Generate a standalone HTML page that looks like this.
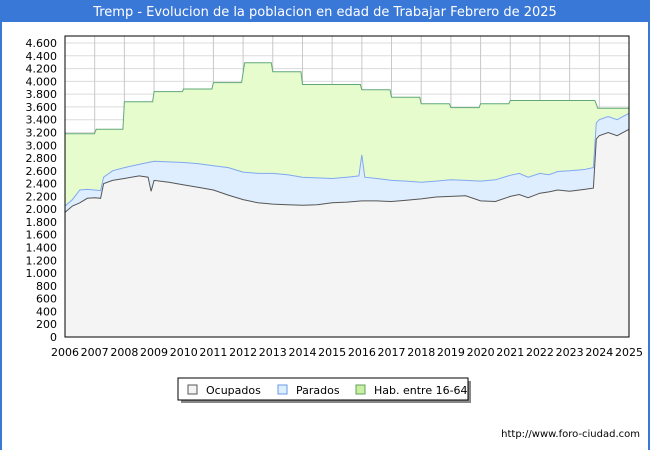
<!DOCTYPE html>
<html><head><meta charset="utf-8"><style>
body{margin:0;background:#fff;font-family:"Liberation Sans","DejaVu Sans",sans-serif}
#wrap{position:relative;width:650px;height:450px;overflow:hidden;background:#fff}
</style></head><body>
<div id="wrap">
<svg id="chart" width="650" height="450" xmlns="http://www.w3.org/2000/svg">
<rect x="0" y="0" width="650" height="450" fill="#fff"/>
<rect x="0" y="0" width="650" height="22" fill="#3a78d8"/>
<rect x="0" y="0" width="2" height="450" fill="#3a78d8"/>
<rect x="648" y="0" width="2" height="450" fill="#3a78d8"/>
<text x="325" y="16" text-anchor="middle" font-size="13" fill="#fff" font-family="DejaVu Sans, sans-serif">Tremp - Evolucion de la poblacion en edad de Trabajar Febrero de 2025</text>
<g id="grid"></g>
<g id="series"></g>
<g id="axes"></g>
<g>
<rect x="181" y="381" width="290" height="22" fill="#888"/>
<rect x="178" y="378" width="290" height="22" fill="#fff" stroke="#000"/>
<rect x="188" y="385" width="9" height="9" fill="#f4f4f4" stroke="#555"/>
<text x="206" y="394" font-size="11" font-family="DejaVu Sans, sans-serif">Ocupados</text>
<rect x="278" y="385" width="9" height="9" fill="#ddeeff" stroke="#6a9ae8"/>
<text x="296" y="394" font-size="11" font-family="DejaVu Sans, sans-serif">Parados</text>
<rect x="356" y="385" width="9" height="9" fill="#c8f0a0" stroke="#60a060"/>
<text x="374" y="394" font-size="11" font-family="DejaVu Sans, sans-serif">Hab. entre 16-64</text>
</g>
<text x="640" y="437" text-anchor="end" font-size="10" font-family="DejaVu Sans, sans-serif">http://www.foro-ciudad.com</text>
</svg>
</div>
<script>
const yearLabels=[2006,2007,2008,2009,2010,2011,2012,2013,2014,2015,2016,2017,2018,2019,2020,2021,2022,2023,2024,2025];
const yTicks=[0,200,400,600,800,1000,1200,1400,1600,1800,2000,2200,2400,2600,2800,3000,3200,3400,3600,3800,4000,4200,4400,4600];
const habT=[2006,2006.99,2007.05,2007.95,2008.0,2008.95,2009.0,2009.95,2010.0,2010.95,2011.0,2011.95,2012.05,2012.95,2013.0,2013.95,2014.0,2014.95,2015.0,2015.95,2016.0,2016.95,2017.0,2017.95,2018.0,2018.95,2019.0,2019.95,2020.0,2020.95,2021.0,2021.95,2022.0,2022.95,2023.0,2023.85,2023.95,2025];
const habV=[3180,3180,3250,3250,3680,3680,3840,3840,3880,3880,3980,3980,4290,4290,4150,4150,3950,3950,3950,3950,3870,3870,3750,3750,3650,3650,3590,3590,3650,3650,3700,3700,3700,3700,3700,3700,3580,3580];
const actT=[2006,2006.25,2006.5,2006.75,2007,2007.2,2007.3,2007.6,2008,2008.5,2008.8,2009,2009.5,2010,2010.5,2011,2011.5,2012,2012.5,2013,2013.5,2014,2014.5,2015,2015.5,2015.9,2016.0,2016.1,2016.5,2017,2017.5,2018,2018.5,2019,2019.5,2020,2020.5,2021,2021.3,2021.6,2022,2022.3,2022.6,2023,2023.5,2023.8,2023.9,2024,2024.3,2024.6,2025];
const actV=[2050,2150,2300,2310,2300,2290,2500,2600,2650,2700,2730,2750,2740,2730,2710,2680,2650,2580,2560,2560,2540,2500,2490,2480,2500,2520,2850,2500,2480,2450,2440,2420,2440,2460,2450,2440,2460,2530,2560,2500,2560,2540,2590,2600,2620,2650,3350,3400,3450,3400,3500];
const occT=[2006,2006.25,2006.5,2006.75,2007,2007.2,2007.3,2007.6,2008,2008.5,2008.8,2008.9,2009,2009.5,2010,2010.5,2011,2011.5,2012,2012.5,2013,2013.5,2014,2014.5,2015,2015.5,2016,2016.5,2017,2017.5,2018,2018.5,2019,2019.5,2020,2020.5,2021,2021.3,2021.6,2022,2022.3,2022.6,2023,2023.5,2023.8,2023.9,2024,2024.3,2024.6,2025];
const occV=[1950,2050,2100,2170,2180,2170,2400,2450,2480,2520,2500,2280,2450,2420,2380,2340,2300,2220,2150,2100,2080,2070,2060,2070,2100,2110,2130,2130,2120,2140,2160,2190,2200,2210,2130,2120,2200,2230,2180,2250,2270,2300,2280,2310,2330,3100,3150,3200,3150,3250,3300];
const L=65,R=629,T=36,B=337;
const x=t=>L+(t-2006)/(2025-2006)*(R-L);
const y=v=>B-v/4600*(B-43);
const NS="http://www.w3.org/2000/svg";
function mk(tag,parent,attrs){const e=document.createElementNS(NS,tag);for(const k in attrs)e.setAttribute(k,attrs[k]);parent.appendChild(e);return e;}
const grid=document.getElementById('grid'),ser=document.getElementById('series'),axes=document.getElementById('axes');
mk('rect',grid,{x:L,y:T,width:R-L,height:B-T,fill:'#fff'});
yTicks.forEach(v=>{const l=mk('line',grid,{x1:L,x2:R,y1:y(v),y2:y(v),stroke:'#dcdcdc','stroke-width':1});


const t=mk('text',axes,{x:L-8,y:y(v)+4,'text-anchor':'end','font-size':11,'font-family':'DejaVu Sans, sans-serif'});t.textContent=v.toLocaleString('de-DE');

});
yearLabels.forEach(yr=>{const l=mk('line',grid,{x1:x(yr),x2:x(yr),y1:T,y2:B,stroke:'#c8c8c8','stroke-width':1});


const t=mk('text',axes,{x:x(yr),y:356,'text-anchor':'middle','font-size':11,'font-family':'DejaVu Sans, sans-serif'});t.textContent=yr;

});
function line(ts,vs){return ts.map((t,i)=>x(t).toFixed(1)+','+y(vs[i]).toFixed(1)).join(' ');}
function area(ts,vs,fill,stroke,name){
const p=mk('polygon',ser,{points:x(ts[0])+','+B+' '+line(ts,vs)+' '+x(ts[ts.length-1])+','+B,fill:fill});


const l=mk('polyline',ser,{points:line(ts,vs),fill:'none',stroke:stroke,'stroke-width':1});

}
area(habT,habV,'#e6fccc','#60a878','hab');
area(actT,actV,'#deeeff','#80a8f0','parados');
area(occT,occV,'#f4f4f4','#555','ocupados');
mk('rect',axes,{x:L,y:T,width:R-L,height:B-T,fill:'none',stroke:'#000','stroke-width':1});
</script>
</body></html>
